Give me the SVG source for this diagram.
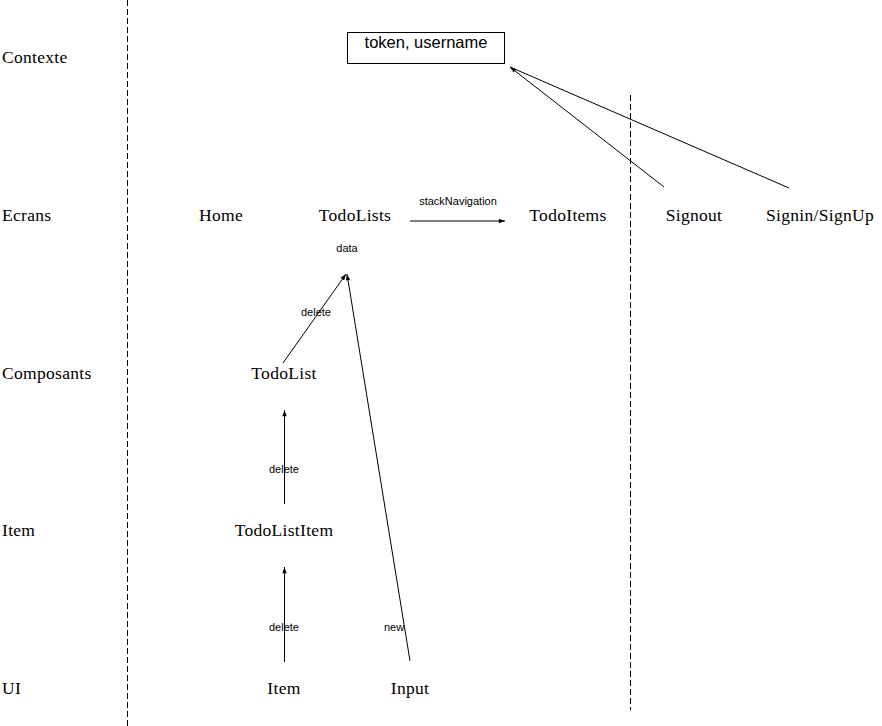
<svg xmlns="http://www.w3.org/2000/svg" width="882" height="726" viewBox="0 0 882 726">
<style>
.lbl{font-family:"Liberation Serif","Times New Roman",serif;font-size:17.5px;letter-spacing:0.3px;fill:#000}
.n{font-family:"Liberation Serif","Times New Roman",serif;font-size:17.5px;letter-spacing:0.3px;fill:#000;text-anchor:middle}
.s{font-family:"Liberation Sans",Arial,sans-serif;font-size:11px;fill:#000;text-anchor:middle}
.b{font-family:"Liberation Sans",Arial,sans-serif;font-size:16.5px;fill:#000;text-anchor:middle}
.dash{stroke:#000;stroke-width:1;stroke-dasharray:6,3;fill:none}
.c{stroke:#000;stroke-width:1;fill:none}
</style>
<defs>
<marker id="ah" viewBox="0 0 10 8" refX="10" refY="4" markerWidth="7" markerHeight="5" orient="auto" markerUnits="userSpaceOnUse">
<path d="M0,0.5 L10,4 L0,7.5 Z" fill="#000"/>
</marker>
</defs>
<rect width="882" height="726" fill="#fff"/>
<g id="lanes">
<line class="dash" x1="127.5" y1="0" x2="127.5" y2="726"/>
<line class="dash" x1="630.5" y1="95" x2="630.5" y2="710"/>
<text class="lbl" x="2" y="63">Contexte</text>
<text class="lbl" x="2" y="221">Ecrans</text>
<text class="lbl" x="2" y="379">Composants</text>
<text class="lbl" x="2" y="536">Item</text>
<text class="lbl" x="2" y="694">UI</text>
</g>
<g id="connectors">
<line class="c" x1="664" y1="187" x2="510" y2="67" marker-end="url(#ah)"/>
<line class="c" x1="789" y1="188" x2="510" y2="67"/>
<line class="c" x1="410" y1="221" x2="505" y2="221" marker-end="url(#ah)"/>
<line class="c" x1="283" y1="363" x2="346" y2="274" marker-end="url(#ah)"/>
<line class="c" x1="410" y1="661" x2="347" y2="274" marker-end="url(#ah)"/>
<line class="c" x1="284.5" y1="504" x2="284.5" y2="410" marker-end="url(#ah)"/>
<line class="c" x1="284.5" y1="662" x2="284.5" y2="567" marker-end="url(#ah)"/>
<text class="s" x="458" y="205">stackNavigation</text>
<text class="s" x="347" y="252">data</text>
<text class="s" x="316" y="316">delete</text>
<text class="s" x="284" y="473">delete</text>
<text class="s" x="284" y="631">delete</text>
<text class="s" x="394" y="631">new</text>
</g>
<g id="context"><rect x="347.5" y="32.5" width="157" height="31" fill="#fff" stroke="#000"/><text class="b" x="426" y="48">token, username</text></g>
<g id="home"><text class="n" x="221" y="221">Home</text></g>
<g id="todolists"><text class="n" x="355" y="221">TodoLists</text></g>
<g id="todoitems"><text class="n" x="568" y="221">TodoItems</text></g>
<g id="signout"><text class="n" x="694" y="221">Signout</text></g>
<g id="signin"><text class="n" x="820" y="221">Signin/SignUp</text></g>
<g id="todolist"><text class="n" x="284" y="379">TodoList</text></g>
<g id="todolistitem"><text class="n" x="284" y="536">TodoListItem</text></g>
<g id="item"><text class="n" x="284" y="694">Item</text></g>
<g id="input"><text class="n" x="410" y="694">Input</text></g>
</svg>
